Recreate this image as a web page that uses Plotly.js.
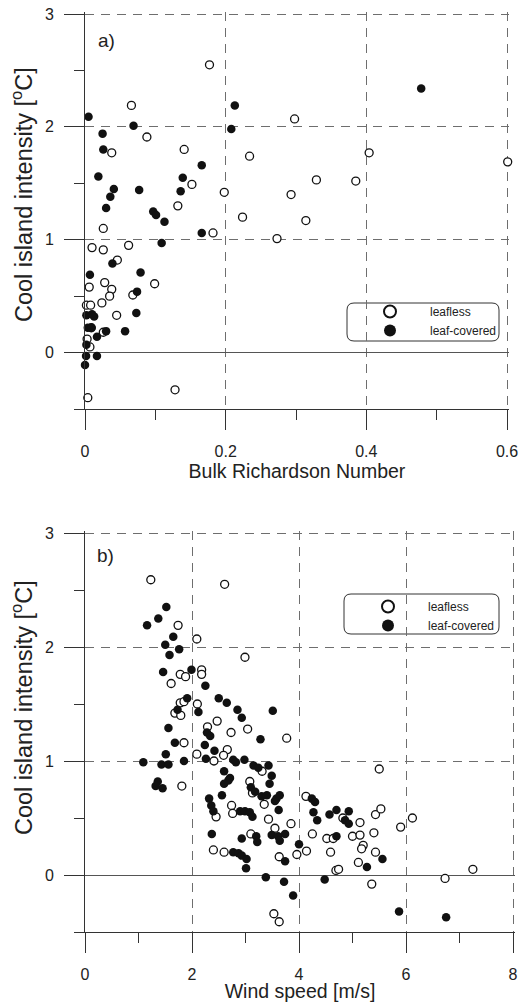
<!DOCTYPE html>
<html>
<head>
<meta charset="utf-8">
<script src="https://cdn.plot.ly/plotly-3.0.1.min.js"></script>
<style>
  html, body { margin: 0; padding: 0; background: #fff; }
  #chart { width: 524px; height: 1002px; }
</style>
</head>
<body>
<div id="chart"></div>
<script>
// ---- (a) cool island intensity vs bulk Richardson number ----
const riLeafless = [0.177,0.066,0.088,0.038,0.141,0.152,0.132,0.198,0.224,0.182,0.026,0.010,0.026,0.062,0.046,0.006,0.028,0.038,0.035,0.068,0.099,0.024,0.045,0.026,0.002,0.008,0.009,0.003,0.007,0.004,0.128,0.234,0.298,0.329,0.385,0.293,0.314,0.273,0.404,0.601];
const ciRiLeafless = [2.55,2.19,1.91,1.77,1.80,1.49,1.30,1.42,1.20,1.06,1.10,0.93,0.91,0.95,0.82,0.58,0.62,0.56,0.50,0.51,0.61,0.44,0.33,0.18,0.42,0.42,0.22,0.12,0.05,-0.40,-0.33,1.74,2.07,1.53,1.52,1.40,1.17,1.01,1.77,1.69];
const riLeafy = [0.005,0.069,0.025,0.026,0.019,0.041,0.036,0.030,0.077,0.097,0.101,0.113,0.109,0.139,0.136,0.166,0.166,0.039,0.079,0.074,0.073,0.007,0.057,0.030,0.017,0.002,0.010,0.013,0.004,0.009,0.002,0.0015,0.0,0.017,0.208,0.213,0.478];
const ciRiLeafy = [2.09,2.01,1.94,1.80,1.56,1.45,1.38,1.28,1.44,1.25,1.22,1.16,0.97,1.55,1.43,1.66,1.06,0.79,0.71,0.54,0.35,0.69,0.19,0.19,0.14,0.33,0.34,0.32,0.22,0.22,0.07,-0.03,-0.11,-0.03,1.98,2.19,2.34];

// ---- (b) cool island intensity vs wind speed ----
const wsLeafless = [1.23,2.61,1.74,2.09,2.99,1.78,1.88,2.18,2.18,1.61,1.78,1.85,2.10,1.68,1.79,2.47,2.29,2.73,3.04,3.77,1.85,2.09,2.66,2.59,2.41,3.31,3.08,1.81,3.13,3.35,2.45,2.74,2.76,3.43,3.55,3.85,3.10,2.40,2.60,3.63,3.96,4.14,4.13,4.25,4.52,4.64,4.82,5.00,5.14,5.14,5.20,5.17,5.11,4.59,4.69,4.74,5.36,5.40,5.43,5.53,5.43,5.90,6.12,6.73,7.25,5.50,3.53,3.63];
const ciWsLeafless = [2.59,2.55,2.19,2.07,1.91,1.76,1.74,1.80,1.76,1.68,1.51,1.52,1.50,1.42,1.40,1.35,1.30,1.25,1.28,1.20,1.16,1.06,1.10,1.05,1.00,0.91,0.82,0.78,0.72,0.62,0.51,0.61,0.54,0.49,0.41,0.45,0.36,0.22,0.20,0.16,0.18,0.21,0.69,0.36,0.32,0.32,0.50,0.34,0.46,0.35,0.26,0.23,0.11,0.20,0.04,0.05,-0.08,0.37,0.53,0.58,0.20,0.42,0.50,-0.03,0.05,0.93,-0.34,-0.41];
const wsLeafy = [1.52,1.37,1.16,1.65,1.50,1.76,1.58,1.46,1.99,2.25,1.91,1.73,2.12,2.50,2.65,2.85,2.93,3.51,3.28,1.56,2.28,2.34,1.68,2.24,2.42,1.51,1.09,1.36,1.32,1.45,1.43,1.56,1.85,2.26,2.77,2.82,2.98,3.15,3.24,3.43,3.49,3.45,2.60,2.71,2.68,3.10,3.18,3.30,3.40,2.32,2.36,2.40,2.56,2.60,2.90,2.99,3.08,3.13,3.58,3.64,3.62,3.55,3.49,3.61,3.74,3.64,3.20,3.22,2.37,2.93,2.77,2.87,2.93,3.02,3.01,3.74,3.38,3.72,3.89,4.00,4.24,4.30,4.27,4.34,4.57,4.70,4.70,4.86,4.93,4.93,4.48,5.27,5.56,5.87,6.75];
const ciWsLeafy = [2.35,2.25,2.19,2.09,2.02,1.98,1.93,1.78,1.80,1.66,1.55,1.45,1.43,1.55,1.51,1.45,1.38,1.44,1.19,1.29,1.25,1.22,1.16,1.14,1.09,1.06,0.99,0.82,0.78,0.76,0.97,0.97,1.00,1.02,1.01,0.99,1.01,0.96,0.94,0.96,0.87,0.80,0.91,0.85,0.83,0.77,0.73,0.69,0.70,0.67,0.61,0.56,0.70,0.80,0.56,0.56,0.55,0.51,0.67,0.70,0.57,0.65,0.35,0.34,0.36,0.30,0.34,0.29,0.36,0.32,0.20,0.19,0.17,0.14,0.06,0.12,-0.02,-0.06,-0.18,0.27,0.67,0.64,0.55,0.48,0.53,0.57,0.34,0.48,0.45,0.56,-0.04,0.07,0.14,-0.32,-0.37];

// ---- axis ticks and labels ----
const riTicks = [0, 0.2, 0.4, 0.6];
const riTickText = ['0', '0.2', '0.4', '0.6'];
const riMinorTicks = [0.1, 0.3, 0.5];
const wsTicks = [0, 2, 4, 6, 8];
const wsTickText = ['0', '2', '4', '6', '8'];
const wsMinorTicks = [1, 3, 5, 7];
const ciTicks = [0, 1, 2, 3];
const ciTickText = ['0', '1', '2', '3'];
const ciMinorTicks = [-0.5, 0.5, 1.5, 2.5];
const seriesNames = ['leafless', 'leaf-covered'];
const xTitles = ['Bulk Richardson Number', 'Wind speed [m/s]'];
const yTitle = 'Cool island intensity [<sup>o</sup>C]';
const panelTags = ['a)', 'b)'];

// ---- page geometry (px) ----
const W = 524, H = 1002;
const M = { l: 85, r: 9, t: 12, b: 70 };
const PW = W - M.l - M.r, PH = H - M.t - M.b;
const px2x = p => (p - M.l) / PW;
const px2y = p => (H - M.b - p) / PH;
// a couple of spare pixels past the last gridline keeps the edge gridlines drawn
const EDGE = 2;
const padHi = (lo, hi, lenPx) => [lo, hi + (hi - lo) * EDGE / (lenPx - EDGE)];

const FONT = 'Liberation Sans, Arial, Helvetica, sans-serif';
const INK = '#222';
const AXC = '#333333';
const GRIDC = '#6e6e6e';
const DASH = '9px,7px';
const NONE = 'rgba(0,0,0,0)';

const openMarker = { symbol: 'circle', size: 8, color: '#fff', line: { color: '#111', width: 1.3 } };
const fullMarker = { symbol: 'circle', size: 8.5, color: '#111', line: { color: '#111', width: 0 } };

function pts(x, y, name, marker, xa, ya, legend) {
  return { type: 'scatter', mode: 'markers', x, y, name, marker, xaxis: xa, yaxis: ya,
           legend, cliponaxis: false, hoverinfo: 'x+y' };
}

// leafless points sit on the labelled axes, leaf-covered points on the
// overlaid twin axes that draw the tick marks (same ranges, same domains)
const data = [
  pts(riLeafless, ciRiLeafless, seriesNames[0], openMarker, 'x', 'y', 'legend'),
  pts(riLeafy, ciRiLeafy, seriesNames[1], fullMarker, 'x3', 'y3', 'legend'),
  pts(wsLeafless, ciWsLeafless, seriesNames[0], openMarker, 'x2', 'y2', 'legend2'),
  pts(wsLeafy, ciWsLeafy, seriesNames[1], fullMarker, 'x4', 'y4', 'legend2')
];

const tickFont = { family: FONT, size: 16, color: INK };

// labelled axes: frame line, dashed grid, labels; their invisible ticks only
// set how far the labels sit from the frame
function xAxis(domain, range, vals, text, anchor, title) {
  return {
    domain, range, anchor, tickmode: 'array', tickvals: vals, ticktext: text,
    ticks: 'outside', ticklen: 28, tickwidth: 1, tickcolor: NONE,
    showline: true, linecolor: AXC, linewidth: 1,
    showgrid: true, gridcolor: GRIDC, gridwidth: 1, griddash: DASH,
    zeroline: false,
    tickfont: tickFont,
    title: { text: title, font: { family: FONT, size: 19.5, color: INK }, standoff: 0 },
    fixedrange: true
  };
}
function yAxis(domain, range, anchor) {
  return {
    domain, range, anchor, tickmode: 'array', tickvals: ciTicks, ticktext: ciTickText,
    ticks: 'outside', ticklen: 27, tickwidth: 1, tickcolor: NONE,
    showline: true, linecolor: AXC, linewidth: 1,
    showgrid: true, gridcolor: GRIDC, gridwidth: 1, griddash: DASH,
    zeroline: true, zerolinecolor: '#555', zerolinewidth: 1,
    tickfont: tickFont,
    fixedrange: true
  };
}
// twin axes: long tick marks at the labelled values, short ones between
function tickAxis(base, range, anchor, side, vals, minorVals) {
  return {
    overlaying: base, anchor, side, range, tickmode: 'array', tickvals: vals,
    ticks: 'outside', ticklen: 20, tickwidth: 1, tickcolor: AXC,
    minor: { tickmode: 'array', tickvals: minorVals, ticks: 'outside', ticklen: 10, tickwidth: 1, tickcolor: AXC, showgrid: false },
    showticklabels: false, showgrid: false, zeroline: false, showline: false,
    fixedrange: true
  };
}

// rounded frame drawn behind each legend
function roundBox(x0, y0, x1, y1, r) {
  const X = px2x, Y = px2y;
  return {
    type: 'path', xref: 'paper', yref: 'paper', layer: 'below',
    line: { color: '#333', width: 1 }, fillcolor: NONE,
    path: `M ${X(x0 + r)} ${Y(y0)} L ${X(x1 - r)} ${Y(y0)} Q ${X(x1)} ${Y(y0)} ${X(x1)} ${Y(y0 + r)} ` +
          `L ${X(x1)} ${Y(y1 - r)} Q ${X(x1)} ${Y(y1)} ${X(x1 - r)} ${Y(y1)} ` +
          `L ${X(x0 + r)} ${Y(y1)} Q ${X(x0)} ${Y(y1)} ${X(x0)} ${Y(y1 - r)} ` +
          `L ${X(x0)} ${Y(y0 + r)} Q ${X(x0)} ${Y(y0)} ${X(x0 + r)} ${Y(y0)} Z`
  };
}

function legendAt(xpx, ypx) {
  return {
    x: px2x(xpx), y: px2y(ypx), xanchor: 'left', yanchor: 'top',
    bgcolor: NONE, borderwidth: 0,
    font: { family: FONT, size: 12, color: INK },
    itemwidth: 70, itemsizing: 'constant', tracegroupgap: 0
  };
}

// panel frames in px: a) x 85..509, y 12..409   b) x 85..515, y 531..932
const rangeRi = padHi(0, 0.6, 509 - 85);
const rangeWs = padHi(0, 8, 515 - 85);
const rangeCiA = padHi(-0.5, 3, 409 - 12);
const rangeCiB = padHi(-0.5, 3, 932 - 531);

const layout = {
  width: W, height: H,
  margin: M,
  paper_bgcolor: '#fff', plot_bgcolor: NONE,
  font: { family: FONT, color: INK },
  showlegend: true,
  xaxis: xAxis([0, px2x(509)], rangeRi, riTicks, riTickText, 'y', xTitles[0]),
  yaxis: yAxis([px2y(409), 1], rangeCiA, 'x'),
  xaxis2: xAxis([0, 1], rangeWs, wsTicks, wsTickText, 'y2', xTitles[1]),
  yaxis2: yAxis([0, px2y(531)], rangeCiB, 'x2'),
  xaxis3: tickAxis('x', rangeRi, 'y3', 'bottom', riTicks, riMinorTicks),
  yaxis3: tickAxis('y', rangeCiA, 'x3', 'left', ciTicks, ciMinorTicks),
  xaxis4: tickAxis('x2', rangeWs, 'y4', 'bottom', wsTicks, wsMinorTicks),
  yaxis4: tickAxis('y2', rangeCiB, 'x4', 'left', ciTicks, ciMinorTicks),
  legend: legendAt(350, 297),
  legend2: legendAt(348, 592),
  shapes: [roundBox(347, 303, 499, 341, 7), roundBox(344, 594, 499, 634, 7)],
  annotations: [
    { text: panelTags[0], xref: 'paper', yref: 'paper', x: px2x(96), y: px2y(40), xanchor: 'left', yanchor: 'middle', showarrow: false, font: { family: FONT, size: 19, color: INK } },
    { text: panelTags[1], xref: 'paper', yref: 'paper', x: px2x(95), y: px2y(556), xanchor: 'left', yanchor: 'middle', showarrow: false, font: { family: FONT, size: 19, color: INK } },
    { text: yTitle, xref: 'paper', yref: 'paper', x: px2x(22), y: px2y(195), xanchor: 'center', yanchor: 'middle', textangle: -90, showarrow: false, font: { family: FONT, size: 23.5, color: INK } },
    { text: yTitle, xref: 'paper', yref: 'paper', x: px2x(22), y: px2y(708), xanchor: 'center', yanchor: 'middle', textangle: -90, showarrow: false, font: { family: FONT, size: 23.5, color: INK } }
  ]
};

Plotly.newPlot('chart', data, layout, { displayModeBar: false, staticPlot: true });
</script>
</body>
</html>
